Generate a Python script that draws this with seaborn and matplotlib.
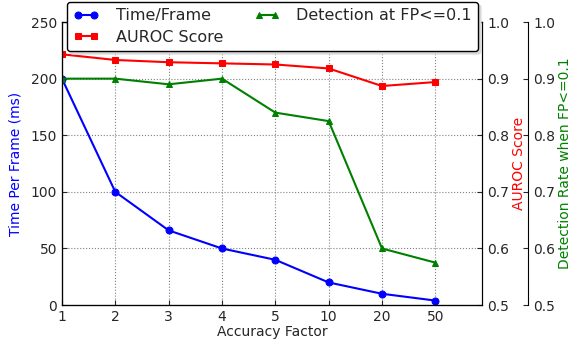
import numpy as np
import seaborn as sns
import matplotlib.pyplot as plt

### Data.
factors = ['1', '2', '3', '4', '5', '10', '20', '50']
time_ms = [200, 100, 66, 50, 40, 20, 10, 4]
auroc = [0.943, 0.933, 0.929, 0.927, 0.925, 0.918, 0.887, 0.894]
detect = [0.90, 0.90, 0.89, 0.90, 0.84, 0.825, 0.60, 0.575]
pos = np.arange(len(factors))

### Style.
sns.set_style("ticks", {'axes.edgecolor': 'black'})
plt.rcParams['font.family'] = ['DejaVu Sans']
plt.rcParams['font.size'] = 10
plt.rcParams['xtick.direction'] = 'in'
plt.rcParams['ytick.direction'] = 'in'

fig, ax = plt.subplots(figsize=(5.79, 3.39), dpi=100)
fig.subplots_adjust(left=0.107, right=0.833, top=0.935, bottom=0.1)
ax2 = ax.twinx()
ax3 = ax.twinx()
ax3.spines['right'].set_position(('outward', 33))

sns.lineplot(x=pos, y=time_ms, ax=ax, color='blue', marker='o', markersize=5,
             markeredgecolor='blue', linewidth=1.5, label='Time/Frame', legend=False)
sns.lineplot(x=pos, y=auroc, ax=ax2, color='red', marker='s', markersize=5,
             markeredgecolor='red', linewidth=1.5, label='AUROC Score', legend=False)
sns.lineplot(x=pos, y=detect, ax=ax3, color='green', marker='^', markersize=5,
             markeredgecolor='green', linewidth=1.5, label='Detection at FP<=0.1', legend=False)

ax.set_xlim(0, 7.88)
ax.set_xticks(pos)
ax.set_xticklabels(factors)
ax.set_ylim(0, 250)
ax.set_yticks([0, 50, 100, 150, 200, 250])
ax2.set_ylim(0.5, 1.0)
ax3.set_ylim(0.5, 1.0)
for a in (ax2, ax3):
    a.set_yticks([0.5, 0.6, 0.7, 0.8, 0.9, 1.0])
    a.set_yticklabels(['0.5', '0.6', '0.7', '0.8', '0.9', '1.0'])

ax.grid(True, linestyle=':', color='gray', linewidth=0.8)
ax.set_xlabel('Accuracy Factor', labelpad=1)
ax.set_ylabel('Time Per Frame (ms)', color='blue', labelpad=6)
ax2.set_ylabel('AUROC Score', color='red', labelpad=2)
ax3.set_ylabel('Detection Rate when FP<=0.1', color='green', labelpad=2)

handles = []
labels = []
for a in (ax, ax2, ax3):
    h, l = a.get_legend_handles_labels()
    handles += h
    labels += l
leg = ax3.legend(handles, labels, ncol=2, loc='upper left',
                 bbox_to_anchor=(0.012, 0.894, 0.978, 0.177), mode='expand',
                 fontsize=11.5, numpoints=2, fancybox=True,
                 shadow={'color': '0.85', 'alpha': 1}, frameon=True,
                 borderaxespad=0, handlelength=1.6, columnspacing=2.0,
                 handletextpad=1.05, labelspacing=0.4, borderpad=0.4)
leg.get_frame().set_edgecolor('black')
leg.get_frame().set_alpha(1)

plt.savefig('out.png', dpi=100)
